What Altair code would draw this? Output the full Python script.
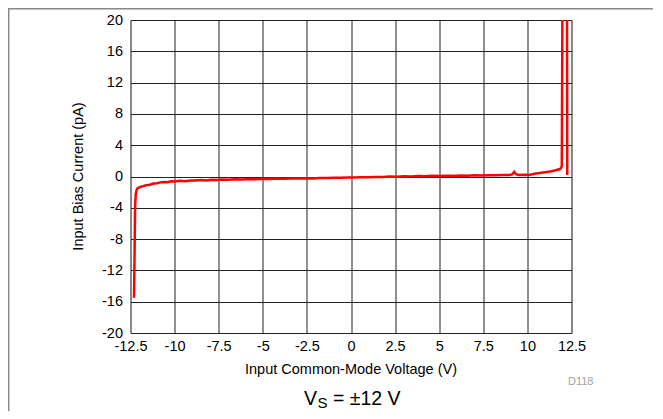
import altair as alt
import pandas as pd

voltage = [-12.30, -12.27, -12.24, -12.20, -12.15, -12.10, -12.00, -11.90, -11.80, -11.60,
           -11.40, -11.20, -11.00, -10.80, -10.60, -10.40, -10.20, -10.00, -9.70, -9.40,
           -9.10, -8.80, -8.50, -8.20, -7.90, -7.60, -7.30, -7.00, -6.60, -6.20,
           -5.80, -5.40, -5.00, -4.60, -4.20, -3.80, -3.40, -3.00, -2.60, -2.20,
           -1.80, -1.40, -1.00, -0.60, -0.20, 0.20, 0.60, 1.00, 1.40, 1.80,
           2.20, 2.60, 3.00, 3.40, 3.80, 4.20, 4.60, 5.00, 5.40, 5.80,
           6.20, 6.60, 7.00, 7.40, 7.80, 8.20, 8.60, 9.00, 9.15, 9.25,
           9.35, 9.50, 9.80, 10.10, 10.40, 10.70, 11.00, 11.30, 11.60, 11.85,
           11.95, 12.00, 12.24, 12.26]
current = [-15.5, -10.0, -4.0, -2.2, -1.7, -1.5, -1.4, -1.3, -1.25, -1.1,
           -1.05, -0.9, -0.85, -0.75, -0.7, -0.72, -0.6, -0.65, -0.55, -0.6,
           -0.5, -0.52, -0.45, -0.5, -0.42, -0.45, -0.38, -0.42, -0.35, -0.38,
           -0.32, -0.35, -0.3, -0.32, -0.27, -0.3, -0.25, -0.27, -0.22, -0.25,
           -0.18, -0.2, -0.15, -0.17, -0.12, -0.14, -0.08, -0.1, -0.05, -0.06,
           0.0, -0.02, 0.03, 0.0, 0.05, 0.03, 0.08, 0.06, 0.1, 0.08,
           0.12, 0.1, 0.15, 0.12, 0.17, 0.15, 0.2, 0.18, 0.3, 0.6,
           0.3, 0.2, 0.22, 0.2, 0.35, 0.45, 0.55, 0.65, 0.8, 0.95,
           1.3, 30.0, 30.0, 0.2]

x_ticks = [-12.5, -10, -7.5, -5, -2.5, 0, 2.5, 5, 7.5, 10, 12.5]
y_ticks = [-20, -16, -12, -8, -4, 0, 4, 8, 12, 16, 20]

x_title = "Input Common-Mode Voltage (V)"
y_title = "Input Bias Current (pA)"
fig_id = "D118"

df = pd.DataFrame({"v": voltage, "i": current, "n": list(range(len(voltage)))})
one = pd.DataFrame({"a": [0]})

FONT = "Liberation Sans"

line = alt.Chart(df).mark_line(color="#ff0000", strokeWidth=2.5, clip=True).encode(
    x=alt.X("v:Q", scale=alt.Scale(domain=[-12.5, 12.5], nice=False, zero=False),
            axis=alt.Axis(values=x_ticks, title=None, labelExpr="'' + datum.value",
                          labelFontSize=14.5, labelColor="#000", labelFont=FONT,
                          labelPadding=6, ticks=False, domain=False,
                          grid=True, gridColor="#222", gridWidth=1, labelFlush=False,
                          labelOverlap=False)),
    y=alt.Y("i:Q", scale=alt.Scale(domain=[-20, 20], nice=False, zero=False),
            axis=alt.Axis(values=y_ticks, title=None, labelExpr="'' + datum.value",
                          labelFontSize=14.5, labelColor="#000", labelFont=FONT,
                          labelPadding=8, ticks=False, domain=False,
                          grid=True, gridColor="#222", gridWidth=1, labelFlush=False,
                          labelOverlap=False)),
    order="n:Q",
)

def txt(text, x, y, size, align="left", color="#000", angle=0, baseline="alphabetic"):
    return alt.Chart(one).mark_text(
        text=text, fontSize=size, font=FONT, color=color, align=align,
        baseline=baseline, angle=angle,
    ).encode(x=alt.value(x), y=alt.value(y))

ox, oy = 130.5, 20.0  # page position of plot origin

t_x = txt(x_title, 351 - ox, 374 - oy, 14.5, align="center")
t_y = txt(y_title, 78.5 - ox, 176.5 - oy, 14.5, align="center", angle=270, baseline="middle")
t_id = txt(fig_id, 568 - ox, 385 - oy, 11, color="#a0a0a0")
cap_v = txt("V", 304 - ox, 405 - oy, 19.5)
cap_s = txt("S", 317.5 - ox, 407.5 - oy, 15)
cap_rest = txt("= ±12 V", 333 - ox, 405 - oy, 19.5)

frame_top = alt.Chart(one).mark_rule(color="#888", strokeWidth=1.5).encode(
    x=alt.value(-122.5), x2=alt.value(522.5), y=alt.value(-11.3))
frame_left = alt.Chart(one).mark_rule(color="#888", strokeWidth=1.5).encode(
    x=alt.value(-121.8), y=alt.value(-12), y2=alt.value(404))

chart = alt.layer(line, t_x, t_y, t_id, cap_v, cap_s, cap_rest, frame_top, frame_left).properties(
    width=441, height=313,
    autosize=alt.AutoSizeParams(type="none"),
    padding={"left": 122.5, "top": 12, "right": 81.5, "bottom": 78},
).configure_view(stroke="#000", strokeWidth=2.5).configure(background="white")

chart.save("out.html", embed_options={"renderer": "svg", "actions": False})
